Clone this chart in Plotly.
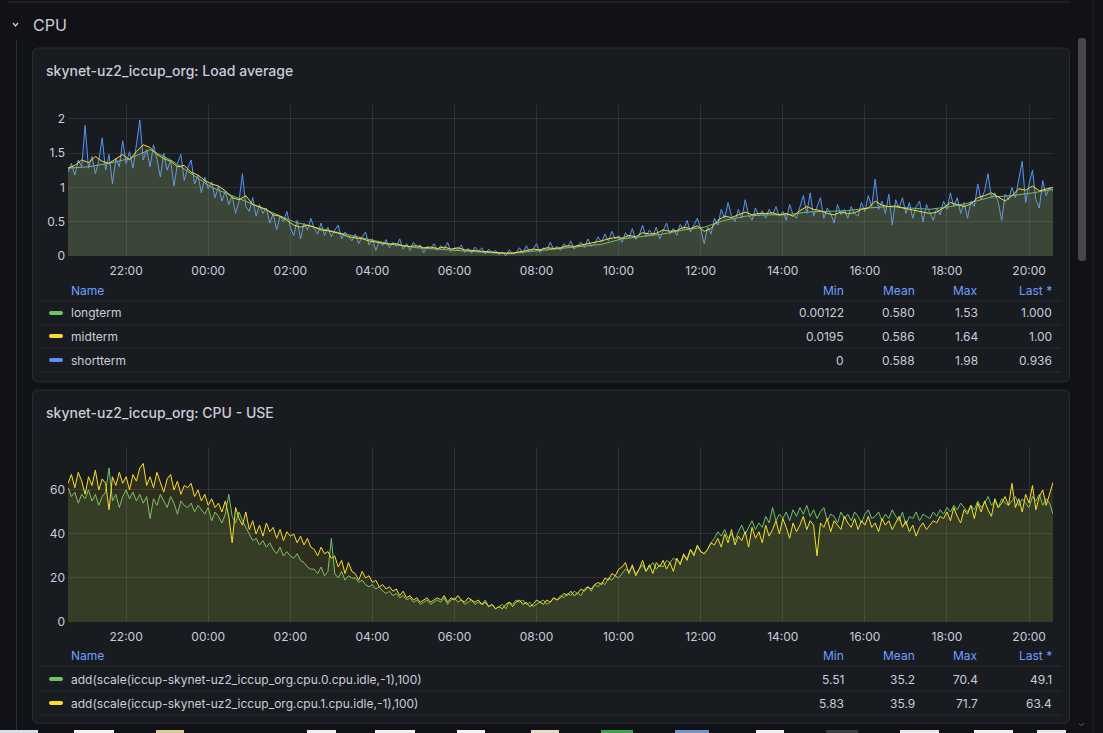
import pandas as pd
import plotly.graph_objects as go

W, H = 1103, 733

# ---------------- DATA ----------------
START = "2024-01-01 20:35"
END = "2024-01-02 20:35"

load_longterm = [1.28, 1.30, 1.35, 1.42, 1.55, 1.40, 1.20, 1.00, 0.88, 0.75, 0.62, 0.50,
                 0.42, 0.35, 0.28, 0.22, 0.16, 0.12, 0.10, 0.08, 0.05, 0.04, 0.05, 0.08,
                 0.10, 0.13, 0.17, 0.25, 0.28, 0.32, 0.38, 0.42, 0.52, 0.58, 0.60, 0.60,
                 0.64, 0.65, 0.66, 0.70, 0.72, 0.70, 0.68, 0.72, 0.78, 0.86, 0.88, 0.92, 0.97]

# 10-minute samples, one row per hour starting 20:35
load_midterm = [
    1.28, 1.32, 1.40, 1.36, 1.45, 1.38,
    1.35, 1.42, 1.48, 1.40, 1.52, 1.62,
    1.58, 1.48, 1.42, 1.38, 1.30, 1.32,
    1.22, 1.18, 1.10, 1.05, 1.02, 0.95,
    0.85, 0.82, 0.88, 0.75, 0.72, 0.68,
    0.60, 0.58, 0.52, 0.45, 0.42, 0.45,
    0.42, 0.38, 0.37, 0.35, 0.32, 0.28,
    0.27, 0.25, 0.22, 0.20, 0.19, 0.17,
    0.18, 0.15, 0.14, 0.15, 0.12, 0.13,
    0.11, 0.13, 0.10, 0.12, 0.09, 0.08,
    0.08, 0.07, 0.06, 0.05, 0.04, 0.04,
    0.06, 0.08, 0.10, 0.09, 0.12, 0.11,
    0.12, 0.15, 0.14, 0.16, 0.18, 0.19,
    0.22, 0.25, 0.27, 0.26, 0.30, 0.28,
    0.34, 0.32, 0.33, 0.38, 0.36, 0.37,
    0.42, 0.40, 0.44, 0.36, 0.40, 0.52,
    0.58, 0.56, 0.60, 0.64, 0.60, 0.62,
    0.62, 0.63, 0.60, 0.62, 0.58, 0.66,
    0.72, 0.68, 0.66, 0.62, 0.60, 0.64,
    0.62, 0.63, 0.68, 0.70, 0.80, 0.74,
    0.72, 0.73, 0.70, 0.68, 0.66, 0.65,
    0.62, 0.64, 0.70, 0.78, 0.75, 0.72,
    0.76, 0.85, 0.88, 0.92, 0.86, 0.80,
    0.88, 0.98, 0.96, 1.02, 0.95, 0.98,
    1.00]

# 5-minute samples, one row per hour starting 20:35
load_shortterm = [
    1.22, 1.35, 1.18, 1.40, 1.30, 1.90, 1.28, 1.45, 1.20, 1.38, 1.72, 1.25,
    1.48, 1.05, 1.42, 1.30, 1.68, 1.35, 1.52, 1.28, 1.62, 1.98, 1.40, 1.55,
    1.30, 1.62, 1.42, 1.15, 1.50, 1.25, 1.40, 1.02, 1.35, 1.48, 1.10, 1.28,
    1.40, 1.05, 1.18, 0.92, 1.15, 0.98, 1.08, 0.85, 1.02, 0.80, 0.95, 0.75,
    0.88, 0.62, 0.80, 1.20, 0.72, 0.65, 0.85, 0.58, 0.75, 0.62, 0.70, 0.48,
    0.62, 0.38, 0.58, 0.50, 0.65, 0.42, 0.30, 0.52, 0.25, 0.48, 0.38, 0.55,
    0.40, 0.32, 0.48, 0.30, 0.42, 0.28, 0.38, 0.45, 0.25, 0.35, 0.30, 0.22,
    0.32, 0.18, 0.28, 0.35, 0.16, 0.25, 0.08, 0.22, 0.15, 0.24, 0.12, 0.20,
    0.14, 0.25, 0.10, 0.18, 0.08, 0.20, 0.12, 0.16, 0.05, 0.14, 0.10, 0.18,
    0.08, 0.15, 0.10, 0.20, 0.06, 0.12, 0.09, 0.16, 0.05, 0.11, 0.04, 0.13,
    0.07, 0.12, 0.03, 0.10, 0.05, 0.08, 0.02, 0.06, 0.00, 0.09, 0.03, 0.05,
    0.12, 0.04, 0.15, 0.06, 0.10, 0.18, 0.05, 0.12, 0.08, 0.20, 0.10, 0.14,
    0.08, 0.18, 0.12, 0.22, 0.10, 0.15, 0.20, 0.12, 0.25, 0.14, 0.18, 0.28,
    0.20, 0.32, 0.22, 0.36, 0.25, 0.30, 0.20, 0.34, 0.26, 0.40, 0.24, 0.30,
    0.45, 0.28, 0.38, 0.30, 0.42, 0.25, 0.36, 0.48, 0.32, 0.40, 0.30, 0.46,
    0.38, 0.52, 0.35, 0.45, 0.55, 0.40, 0.18, 0.42, 0.32, 0.55, 0.45, 0.68,
    0.55, 0.78, 0.58, 0.50, 0.68, 0.55, 0.82, 0.60, 0.52, 0.70, 0.58, 0.66,
    0.55, 0.68, 0.60, 0.72, 0.58, 0.65, 0.52, 0.75, 0.60, 0.55, 0.70, 0.88,
    0.62, 0.92, 0.58, 0.72, 0.85, 0.55, 0.70, 0.62, 0.48, 0.75, 0.60, 0.68,
    0.55, 0.72, 0.62, 0.58, 0.78, 0.65, 0.88, 0.72, 1.12, 0.68, 0.80, 0.62,
    0.90, 0.45, 0.82, 0.70, 0.85, 0.62, 0.78, 0.55, 0.72, 0.80, 0.50, 0.75,
    0.62, 0.52, 0.70, 0.60, 0.80, 0.68, 0.92, 0.72, 0.85, 0.62, 0.78, 0.55,
    0.80, 0.72, 1.05, 0.82, 0.95, 1.20, 0.85, 0.92, 0.78, 0.52, 0.90, 0.82,
    1.00, 0.85, 1.12, 1.38, 0.78, 1.05, 1.25, 0.82, 0.70, 1.10, 0.88, 1.00,
    0.94]

cpu0 = [
    61, 57, 59, 54, 58, 56, 60, 55, 58, 53, 57, 59,
    70, 55, 58, 52, 57, 60, 56, 59, 55, 58, 54, 57,
    47, 56, 53, 58, 55, 52, 57, 54, 49, 55, 53, 52,
    54, 50, 53, 51, 49, 52, 46, 50, 48, 45, 49, 58,
    48, 45, 50, 46, 43, 40, 37, 38, 35, 37, 34, 36,
    33, 31, 34, 30, 32, 30, 29, 31, 28, 27, 25, 24,
    24, 22, 25, 21, 23, 38, 22, 20, 23, 19, 21, 20,
    20, 18, 19, 17, 16, 17, 15, 16, 14, 13, 14, 12,
    13, 11, 12, 10, 11, 9, 10, 8, 9, 10, 8, 9,
    10, 9, 11, 8, 10, 11, 9, 10, 8, 9, 10, 8,
    9, 8, 10, 7, 8, 6, 7, 8, 6, 9, 8, 10,
    9, 10, 8, 9, 7, 8, 9, 10, 8, 9, 11, 10,
    12, 11, 13, 12, 14, 13, 12, 15, 16, 14, 17, 16,
    18, 17, 20, 19, 21, 20, 22, 24, 23, 25, 22, 24,
    26, 23, 25, 27, 24, 26, 25, 28, 27, 29, 28, 27,
    30, 29, 33, 31, 34, 32, 31, 33, 36, 38, 41, 39,
    42, 38, 40, 37, 41, 44, 40, 43, 46, 42, 45, 43,
    48, 45, 52, 46, 49, 47, 50, 46, 51, 48, 52, 49,
    53, 48, 51, 47, 50, 52, 46, 49, 48, 45, 50, 47,
    49, 46, 50, 48, 45, 49, 51, 47, 48, 50, 46, 49,
    47, 51, 48, 46, 50, 44, 48, 47, 50, 46, 49, 48,
    47, 50, 48, 51, 49, 52, 50, 53, 51, 54, 52, 50,
    53, 51, 55, 52, 54, 57, 53, 55, 52, 56, 54, 53,
    55, 57, 53, 56, 54, 52, 57, 55, 58, 53, 56, 54,
    49.1]

cpu1 = [
    63, 67, 61, 68, 64, 58, 66, 62, 69, 60, 65, 63,
    51, 66, 62, 68, 63, 66, 60, 67, 64, 70, 72, 62,
    66, 61, 68, 63, 59, 65, 67, 60, 64, 58, 62, 61,
    63, 57, 60, 55, 58, 53, 56, 52, 54, 50, 55, 48,
    36, 52, 47, 44, 50, 42, 46, 40, 44, 39, 45, 41,
    43, 38, 42, 37, 41, 39, 40, 36, 39, 35, 38, 34,
    33, 30, 34, 31, 32, 29, 30, 25, 28, 22, 27, 23,
    22, 19, 23, 20, 21, 18, 19, 16, 17, 15, 16, 14,
    15, 12, 14, 11, 12, 10, 11, 9, 10, 11, 9, 10,
    11, 10, 12, 9, 11, 10, 12, 10, 9, 11, 10, 9,
    10, 8, 9, 7, 8, 6, 7, 6, 8, 9, 7, 9,
    10, 8, 9, 7, 8, 10, 9, 8, 10, 9, 11, 10,
    11, 13, 12, 14, 12, 13, 15, 14, 16, 15, 17, 18,
    17, 20, 19, 22, 21, 24, 25, 27, 22, 26, 21, 24,
    28, 23, 26, 22, 27, 25, 28, 24, 27, 23, 29, 26,
    31, 28, 33, 30, 35, 32, 31, 33, 36, 35, 38, 34,
    40, 36, 42, 35, 39, 37, 41, 34, 43, 38, 41, 36,
    44, 39, 42, 46, 40, 47, 43, 38, 45, 41, 44, 48,
    42, 46, 44, 30, 45, 43, 47, 41, 46, 44, 42, 48,
    45, 43, 47, 42, 46, 44, 48, 43, 45, 41, 47, 44,
    46, 42, 45, 48, 43, 46, 41, 44, 39, 43, 45, 42,
    44, 46, 45, 48, 47, 50, 46, 52, 48, 45, 51, 49,
    53, 47, 54, 50, 55, 51, 48, 56, 52, 54, 57, 53,
    63, 52, 56, 50, 58, 54, 62, 51, 57, 60, 53, 58,
    63.4]

load_names = ["longterm", "midterm", "shortterm"]
load_stats = [["0.00122", "0.580", "1.53", "1.000"],
              ["0.0195", "0.586", "1.64", "1.00"],
              ["0", "0.588", "1.98", "0.936"]]
cpu_names = ["add(scale(iccup-skynet-uz2_iccup_org.cpu.0.cpu.idle,-1),100)",
             "add(scale(iccup-skynet-uz2_iccup_org.cpu.1.cpu.idle,-1),100)"]
cpu_stats = [["5.51", "35.2", "70.4", "49.1"],
             ["5.83", "35.9", "71.7", "63.4"]]
stat_headers = ["Min", "Mean", "Max", "Last *"]

load_ticks = [0, 0.5, 1, 1.5, 2]
load_ticktext = ["0", "0.5", "1", "1.5", "2"]
cpu_ticks = [0, 20, 40, 60]

# ---------------- STYLE ----------------
BG = "#111217"
PANEL = "#181b1f"
BORDER = "#2a2d33"
TEXT = "#ccccdc"
LINK = "#6e9fff"
GRID = "rgba(204,204,220,0.12)"
GREEN, YELLOW, BLUE = "#73bf69", "#fade2a", "#5794f2"
FONT = "Inter"


def X(px):
    return px / W


def Y(py):
    return 1 - py / H


def rrect_path(x0, y0, x1, y1, r):
    pts = [
        f"M {X(x0 + r)},{Y(y0)}", f"L {X(x1 - r)},{Y(y0)}", f"Q {X(x1)},{Y(y0)} {X(x1)},{Y(y0 + r)}",
        f"L {X(x1)},{Y(y1 - r)}", f"Q {X(x1)},{Y(y1)} {X(x1 - r)},{Y(y1)}",
        f"L {X(x0 + r)},{Y(y1)}", f"Q {X(x0)},{Y(y1)} {X(x0)},{Y(y1 - r)}",
        f"L {X(x0)},{Y(y0 + r)}", f"Q {X(x0)},{Y(y0)} {X(x0 + r)},{Y(y0)}", "Z"]
    return " ".join(pts)


def times(arr):
    return pd.date_range(START, END, periods=len(arr))


def rgba(hexc, a):
    h = hexc.lstrip("#")
    return f"rgba({int(h[0:2],16)},{int(h[2:4],16)},{int(h[4:6],16)},{a})"


fig = go.Figure()

for name, arr, col in [("longterm", load_longterm, GREEN),
                       ("shortterm", load_shortterm, BLUE),
                       ("midterm", load_midterm, YELLOW)]:
    fig.add_trace(go.Scatter(x=times(arr), y=arr, mode="lines", name=name,
                             line=dict(color=col, width=1), fill="tozeroy",
                             fillcolor=rgba(col, 0.1), xaxis="x", yaxis="y",
                             hoverinfo="skip", showlegend=False))
for name, arr, col in [(cpu_names[0], cpu0, GREEN), (cpu_names[1], cpu1, YELLOW)]:
    fig.add_trace(go.Scatter(x=times(arr), y=arr, mode="lines", name=name,
                             line=dict(color=col, width=1), fill="tozeroy",
                             fillcolor=rgba(col, 0.1), xaxis="x2", yaxis="y2",
                             hoverinfo="skip", showlegend=False))

xcommon = dict(type="date", range=[START, END], tickformat="%H:%M",
               tick0="2024-01-01 22:00", dtick=7200000, showgrid=True, gridcolor=GRID,
               gridwidth=1, zeroline=False, showline=False, ticks="", ticklabelstandoff=6,
               automargin=False,
               tickfont=dict(family=FONT, size=12, color=TEXT), fixedrange=True)
ycommon = dict(showgrid=True, gridcolor=GRID, gridwidth=1, zeroline=False, showline=False,
               ticks="", ticklabelstandoff=2, automargin=False,
               tickfont=dict(family=FONT, size=12, color=TEXT), fixedrange=True)

fig.update_layout(
    width=W, height=H, autosize=False, margin=dict(l=0, r=0, t=0, b=0, pad=0),
    paper_bgcolor=BG, plot_bgcolor="rgba(0,0,0,0)",
    font=dict(family=FONT, color=TEXT),
    xaxis=dict(domain=[X(68), X(1053)], anchor="y", **xcommon),
    yaxis=dict(domain=[Y(256), Y(105)], anchor="x", range=[0, 2.2],
               tickvals=load_ticks, ticktext=load_ticktext, **ycommon),
    xaxis2=dict(domain=[X(68), X(1053)], anchor="y2", **xcommon),
    yaxis2=dict(domain=[Y(622), Y(447)], anchor="x2", range=[0, 79.5],
                tickvals=cpu_ticks, **ycommon),
    hovermode=False,
)

shapes = []
annotations = []

# page chrome
shapes.append(dict(type="line", xref="paper", yref="paper", x0=X(8), x1=X(1070), y0=Y(2), y1=Y(2),
                   line=dict(color=BORDER, width=1), layer="below"))
shapes.append(dict(type="line", xref="paper", yref="paper", x0=X(16.5), x1=X(16.5), y0=Y(40), y1=Y(733),
                   line=dict(color=BORDER, width=1), layer="below"))
shapes.append(dict(type="line", xref="paper", yref="paper", x0=X(1093), x1=X(1093), y0=Y(0), y1=Y(733),
                   line=dict(color="#202226", width=1), layer="below"))
shapes.append(dict(type="path", xref="paper", yref="paper",
                   path=f"M {X(13)},{Y(23)} L {X(15.5)},{Y(26)} L {X(18)},{Y(23)}",
                   line=dict(color=TEXT, width=1.3), layer="above"))
annotations.append(dict(x=X(31), y=Y(25), xref="paper", yref="paper", text="CPU",
                        showarrow=False, xanchor="left", yanchor="middle",
                        font=dict(family=FONT, size=16, color=TEXT)))
shapes.append(dict(type="path", xref="paper", yref="paper",
                   path=rrect_path(1078, 38, 1086, 261, 3), fillcolor="#46474c",
                   line=dict(width=0), layer="below"))
shapes.append(dict(type="path", xref="paper", yref="paper",
                   path=f"M {X(1079)},{Y(723)} L {X(1081.5)},{Y(726)} L {X(1084)},{Y(723)}",
                   line=dict(color="#55575d", width=1), layer="above"))

for (y0, y1) in [(48, 382), (390, 723)]:
    shapes.append(dict(type="path", xref="paper", yref="paper",
                       path=rrect_path(32.5, y0, 1069.5, y1, 6), fillcolor=PANEL,
                       line=dict(color=BORDER, width=1), layer="below"))

annotations.append(dict(x=X(44), y=Y(70), xref="paper", yref="paper",
                        text="skynet-uz2_iccup_org: Load average", showarrow=False,
                        xanchor="left", yanchor="middle",
                        font=dict(family=FONT, size=14, color=TEXT, weight=500)))
annotations.append(dict(x=X(44), y=Y(412), xref="paper", yref="paper",
                        text="skynet-uz2_iccup_org: CPU - USE", showarrow=False,
                        xanchor="left", yanchor="middle",
                        font=dict(family=FONT, size=14, color=TEXT, weight=500)))

col_right = [846, 917, 980, 1054]


def legend_table(header_y, row_ys, names, colors, stats):
    annotations.append(dict(x=X(69), y=Y(header_y), xref="paper", yref="paper", text="Name",
                            showarrow=False, xanchor="left", yanchor="middle",
                            font=dict(family=FONT, size=12, color=LINK)))
    for cx, h in zip(col_right, stat_headers):
        annotations.append(dict(x=X(cx), y=Y(header_y), xref="paper", yref="paper", text=h,
                                showarrow=False, xanchor="right", yanchor="middle",
                                font=dict(family=FONT, size=12, color=LINK)))
    sep = [header_y + 11] + [ry + 12 for ry in row_ys]
    for sy in sep:
        shapes.append(dict(type="line", xref="paper", yref="paper", x0=X(41), x1=X(1061),
                           y0=Y(sy), y1=Y(sy), line=dict(color=BORDER, width=1), layer="below"))
    for ry, nm, c, st in zip(row_ys, names, colors, stats):
        shapes.append(dict(type="path", xref="paper", yref="paper",
                           path=rrect_path(49, ry - 2, 63, ry + 2, 2), fillcolor=c,
                           line=dict(width=0), layer="above"))
        annotations.append(dict(x=X(69), y=Y(ry), xref="paper", yref="paper", text=nm,
                                showarrow=False, xanchor="left", yanchor="middle",
                                font=dict(family=FONT, size=12, color=TEXT)))
        for cx, v in zip(col_right, st):
            annotations.append(dict(x=X(cx), y=Y(ry), xref="paper", yref="paper", text=v,
                                    showarrow=False, xanchor="right", yanchor="middle",
                                    font=dict(family=FONT, size=12, color=TEXT)))


legend_table(290, [313, 336, 360], load_names, [GREEN, YELLOW, BLUE], load_stats)
legend_table(655, [679, 703], cpu_names, [GREEN, YELLOW], cpu_stats)

strip = [(0, 38, "#d8dde6"), (74, 114, "#f2f2f2"), (156, 184, "#d9cf8a"), (307, 336, "#eeeeee"),
         (375, 415, "#f0f0f0"), (457, 485, "#f2f2f2"), (531, 559, "#e6dcc0"), (601, 633, "#3aa64a"),
         (675, 709, "#6f95c8"), (756, 784, "#f0f0f0"), (826, 858, "#3a3d42"), (900, 939, "#e8e8e8"),
         (974, 1013, "#f0f0f0"), (1037, 1066, "#e6e6e6")]
for a, b, c in strip:
    shapes.append(dict(type="rect", xref="paper", yref="paper", x0=X(a), x1=X(b), y0=Y(733),
                       y1=Y(730), fillcolor=c, line=dict(width=0), layer="above"))

fig.update_layout(shapes=shapes, annotations=annotations)
fig.write_html("out.html", config={"displayModeBar": False, "responsive": False},
               post_script="document.body.style.margin='0';document.body.style.padding='0';"
                           "document.body.style.background='#111217';"
                           "document.documentElement.style.overflow='hidden';")
